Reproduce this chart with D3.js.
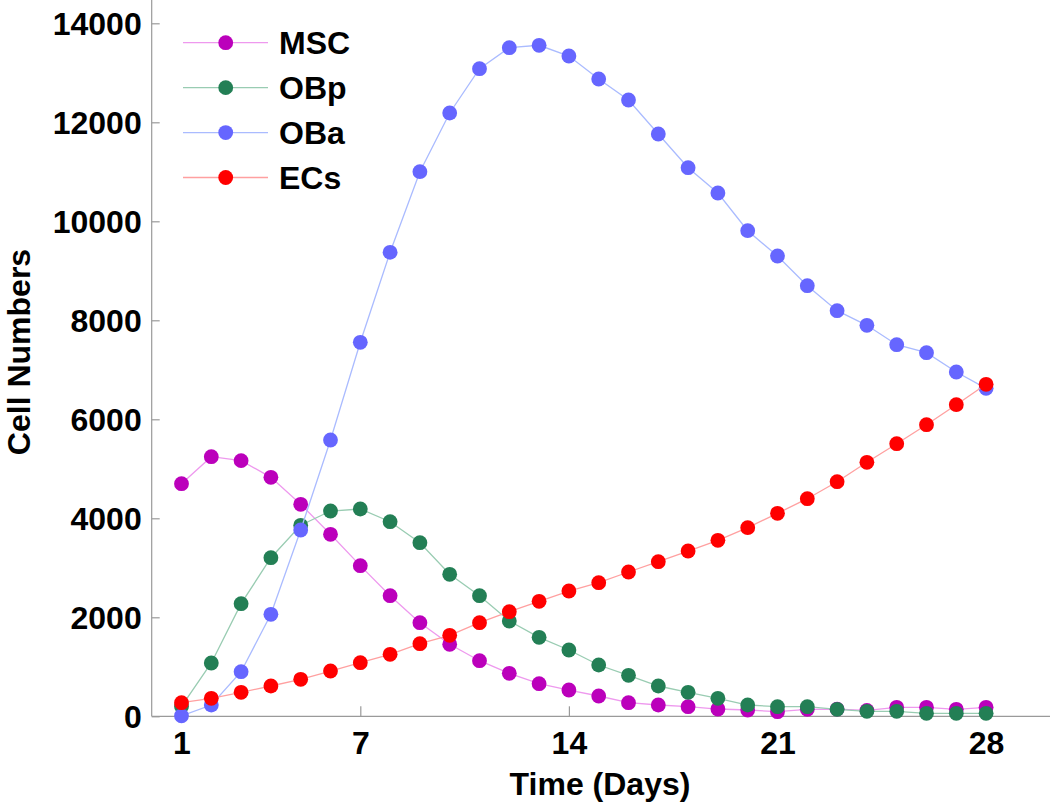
<!DOCTYPE html>
<html>
<head>
<meta charset="utf-8">
<script src="https://cdn.jsdelivr.net/npm/d3@7"></script>
<style>
  html, body { margin: 0; padding: 0; background: #fff; }
  svg { display: block; }
  text { font-family: "Liberation Sans", Arial, sans-serif; font-weight: bold; fill: #000; }
</style>
</head>
<body>
<svg id="chart" width="1050" height="802"></svg>
<script>
const days = d3.range(1, 29);
const xTicks = [1, 7, 14, 21, 28];
const yTicks = [0, 2000, 4000, 6000, 8000, 10000, 12000, 14000];
const seriesNames = ["MSC", "OBp", "OBa", "ECs"];
const mscValues = [4700, 5245, 5165, 4828, 4283, 3677, 3043, 2436, 1891, 1455, 1123, 869, 659, 531,
  410, 275, 228, 194, 147, 127, 93, 141, 145, 120, 182, 182, 141, 182];
const obpValues = [200, 1077, 2275, 3204, 3859, 4147, 4188, 3931, 3507, 2869, 2436, 1925, 1596, 1339,
  1036, 828, 612, 485, 364, 228, 194, 194, 141, 101, 101, 61, 61, 61];
const obaValues = [10, 228, 901, 2061, 3764, 5582, 7556, 9374, 11002, 12188, 13083, 13507, 13556, 13339,
  12875, 12451, 11764, 11083, 10572, 9810, 9299, 8699, 8194, 7899, 7507, 7345, 6956, 6626];
const ecsValues = [275, 364, 485, 612, 747, 915, 1083, 1253, 1467, 1636, 1891, 2113, 2323, 2531,
  2699, 2915, 3123, 3339, 3556, 3810, 4101, 4396, 4739, 5131, 5507, 5891, 6295, 6707];
const pointColors = ["#BB00BB", "#237F55", "#6666FF", "#FF0000"];
const lineColors = ["#EE99EE", "#99CCB2", "#AABBFF", "#FFA0A0"];

const series = [mscValues, obpValues, obaValues, ecsValues].map((vals, i) => ({
  name: seriesNames[i],
  values: vals.map((v, j) => ({ day: days[j], v })),
  color: pointColors[i],
  line: lineColors[i]
}));

const svg = d3.select("#chart");
const x = d3.scaleLinear().domain([0, 30]).range([151.7, 1045.7]);
const y = d3.scaleLinear().domain([0, 14000]).range([716.3, 23.3]);

const axisColor = "#9a9a9a";
// Axis lines
svg.append("line").attr("x1", 151.7).attr("x2", 151.7).attr("y1", 0).attr("y2", y(0))
  .attr("stroke", axisColor).attr("stroke-width", 1.2);
svg.append("line").attr("x1", 151.7).attr("x2", 1050).attr("y1", y(0)).attr("y2", y(0))
  .attr("stroke", axisColor).attr("stroke-width", 1.2);

// Y axis (ticks pointing inward)
const yAxis = d3.axisRight(y).tickValues(yTicks).tickSize(8).tickFormat(d3.format("d"));
const gy = svg.append("g").attr("transform", "translate(151.7,0)").call(yAxis);
gy.select(".domain").remove();
gy.selectAll(".tick line").attr("stroke", axisColor).attr("stroke-width", 1.2);
gy.selectAll(".tick text").attr("x", -10).attr("text-anchor", "end")
  .attr("font-size", 32).attr("dy", "0.36em")
  .style("font-family", "'Liberation Sans', Arial, sans-serif").style("font-weight", "bold").attr("fill", "#000");

// X axis (ticks pointing inward)
const xAxis = d3.axisTop(x).tickValues(xTicks).tickSize(10).tickFormat(d3.format("d"));
const gx = svg.append("g").attr("transform", `translate(0,${y(0)})`).call(xAxis);
gx.select(".domain").remove();
gx.selectAll(".tick line").attr("stroke", axisColor).attr("stroke-width", 1.2);
gx.selectAll(".tick text").attr("y", 38).attr("dy", 0).attr("text-anchor", "middle")
  .attr("font-size", 32)
  .style("font-family", "'Liberation Sans', Arial, sans-serif").style("font-weight", "bold").attr("fill", "#000");

// Titles
svg.append("text").attr("x", 600).attr("y", 795).attr("text-anchor", "middle")
  .attr("font-size", 32).text("Time (Days)");
svg.append("text").attr("transform", "translate(30,352) rotate(-90)").attr("text-anchor", "middle")
  .attr("font-size", 32).text("Cell Numbers");

// Series
const lineGen = d3.line().x(d => x(d.day)).y(d => y(d.v));
series.forEach(s => {
  const g = svg.append("g");
  g.append("path").datum(s.values).attr("d", lineGen)
    .attr("fill", "none").attr("stroke", s.line).attr("stroke-width", 1.3);
  g.selectAll("circle").data(s.values).join("circle")
    .attr("cx", d => x(d.day)).attr("cy", d => y(d.v)).attr("r", 7.4)
    .attr("fill", s.color);
});

// Legend
const legendY = d3.scalePoint().domain(seriesNames).range([42.7, 177.5]);
const lg = svg.append("g");
series.forEach(s => {
  const yy = legendY(s.name);
  lg.append("line").attr("x1", 183).attr("x2", 268).attr("y1", yy).attr("y2", yy)
    .attr("stroke", s.line).attr("stroke-width", 1.3);
  lg.append("circle").attr("cx", 225.7).attr("cy", yy).attr("r", 7.4).attr("fill", s.color);
  lg.append("text").attr("x", 279).attr("y", yy).attr("dy", "0.36em")
    .attr("font-size", 32).text(s.name);
});
</script>
</body>
</html>
